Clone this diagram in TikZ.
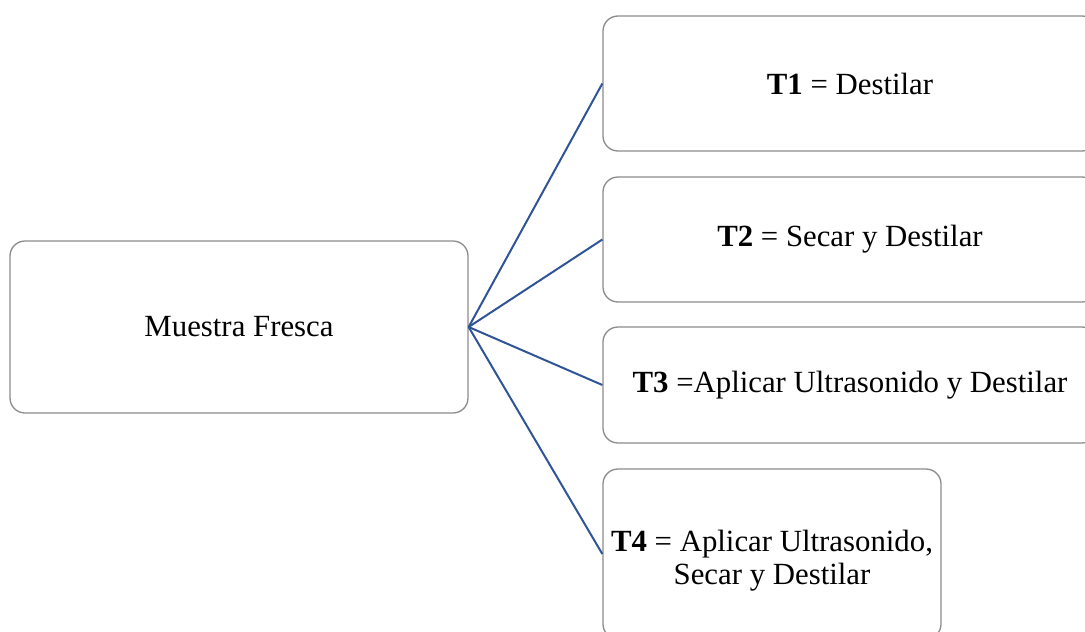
\documentclass[tikz,border=0pt]{standalone}
\usepackage{fontspec}
\setmainfont{Liberation Serif}
\definecolor{linkblue}{HTML}{2F5597}
\definecolor{boxgray}{HTML}{8C8C8C}
\begin{document}
\begin{tikzpicture}[x=1pt,y=-1pt,
  roundbox/.style={draw=boxgray, line width=1.3pt, rounded corners=15pt, fill=white,
    font=\fontsize{30.8}{35}\selectfont, align=center, inner sep=0pt},
  boxtext/.style={font=\fontsize{30.8}{33}\selectfont, align=center, inner sep=0pt},
  link/.style={draw=linkblue, line width=2pt}]
  \useasboundingbox (0,0) rectangle (1085,632);
  \clip (0,0) rectangle (1085,632);
  % source box
  \node[roundbox, minimum width=458pt, minimum height=172pt] (src) at (239,327) {Muestra Fresca};
  % treatment boxes
  \node[roundbox, minimum width=494pt, minimum height=135pt] (t1) at (850,83.5) {\textbf{T1} = Destilar};
  \node[roundbox, minimum width=494pt, minimum height=125pt] (t2) at (850,239.5) {\textbf{T2} = Secar y Destilar};
  \node[roundbox, minimum width=494pt, minimum height=116pt] (t3) at (850,385) {\textbf{T3} =Aplicar Ultrasonido y Destilar};
  \node[roundbox, minimum width=338pt, minimum height=170pt] (t4) at (772,554) {};
  \node[boxtext] (t4text) at ([yshift=-7pt]t4.center) {\textbf{T4} = Aplicar Ultrasonido,\\Secar y Destilar};
  % connectors
  \foreach \t in {t1,t2,t3,t4}
    \draw[link] (src.east) -- (\t.west);
\end{tikzpicture}
\end{document}
